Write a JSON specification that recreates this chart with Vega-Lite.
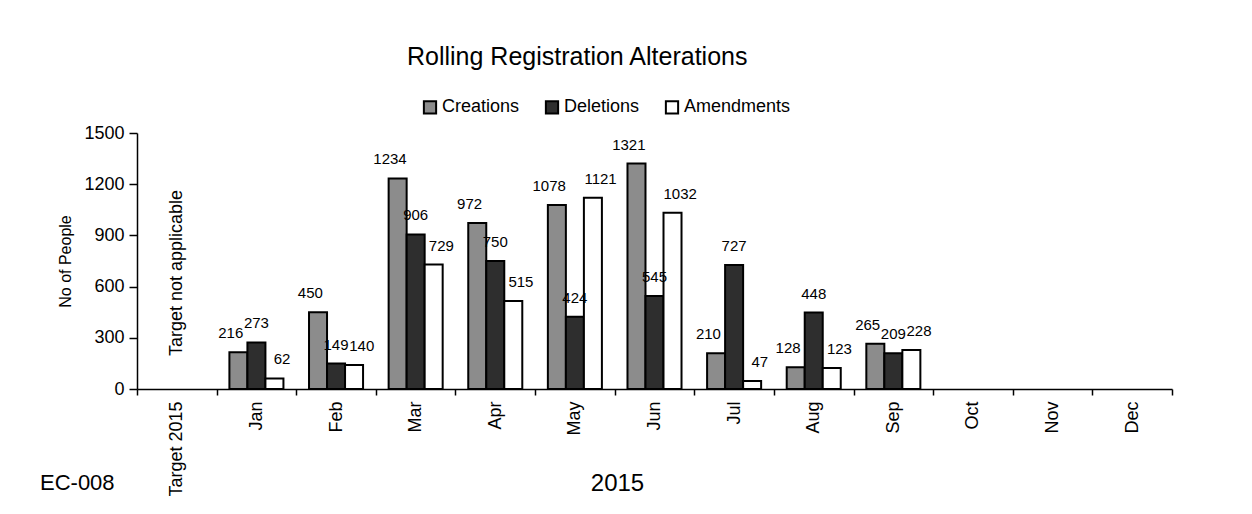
{
  "$schema": "https://vega.github.io/schema/vega-lite/v6.json",
  "width": 1035,
  "height": 256,
  "autosize": {"type": "none"},
  "padding": {"left": 137, "top": 133, "right": 80, "bottom": 125},
  "background": "white",
  "title": {
    "text": "EC-008",
    "orient": "bottom",
    "anchor": "start",
    "frame": "group",
    "dx": -97,
    "dy": -27,
    "fontSize": 22,
    "fontWeight": "normal",
    "color": "black"
  },
  "config": {
    "font": "Liberation Sans",
    "view": {"stroke": null},
    "axis": {"domainColor": "black", "tickColor": "black", "labelColor": "black", "titleColor": "black", "grid": false}
  },
  "datasets": {
    "counts": [
      {"month": "Jan", "series": "Creations", "value": 216},
      {"month": "Jan", "series": "Deletions", "value": 273},
      {"month": "Jan", "series": "Amendments", "value": 62},
      {"month": "Feb", "series": "Creations", "value": 450},
      {"month": "Feb", "series": "Deletions", "value": 149},
      {"month": "Feb", "series": "Amendments", "value": 140},
      {"month": "Mar", "series": "Creations", "value": 1234},
      {"month": "Mar", "series": "Deletions", "value": 906},
      {"month": "Mar", "series": "Amendments", "value": 729},
      {"month": "Apr", "series": "Creations", "value": 972},
      {"month": "Apr", "series": "Deletions", "value": 750},
      {"month": "Apr", "series": "Amendments", "value": 515},
      {"month": "May", "series": "Creations", "value": 1078},
      {"month": "May", "series": "Deletions", "value": 424},
      {"month": "May", "series": "Amendments", "value": 1121},
      {"month": "Jun", "series": "Creations", "value": 1321},
      {"month": "Jun", "series": "Deletions", "value": 545},
      {"month": "Jun", "series": "Amendments", "value": 1032},
      {"month": "Jul", "series": "Creations", "value": 210},
      {"month": "Jul", "series": "Deletions", "value": 727},
      {"month": "Jul", "series": "Amendments", "value": 47},
      {"month": "Aug", "series": "Creations", "value": 128},
      {"month": "Aug", "series": "Deletions", "value": 448},
      {"month": "Aug", "series": "Amendments", "value": 123},
      {"month": "Sep", "series": "Creations", "value": 265},
      {"month": "Sep", "series": "Deletions", "value": 209},
      {"month": "Sep", "series": "Amendments", "value": 228}
    ],
    "notes": [
      {"month": "Target 2015", "note": "Target not applicable"}
    ]
  },
  "resolve": {"scale": {"xOffset": "independent"}},
  "layer": [
    {
      "data": {"name": "counts"},
      "mark": {"type": "bar", "stroke": "black", "strokeWidth": 2},
      "encoding": {
        "x": {
          "field": "month",
          "type": "nominal",
          "sort": null,
          "scale": {
            "domain": ["Target 2015", "Jan", "Feb", "Mar", "Apr", "May", "Jun", "Jul", "Aug", "Sep", "Oct", "Nov", "Dec"],
            "paddingInner": 0,
            "paddingOuter": 0
          },
          "axis": {
            "title": "2015",
            "titleFontSize": 24,
            "titleFontWeight": "normal",
            "titleX": 480,
            "titleY": 94,
            "titleAlign": "center",
            "titleBaseline": "middle",
            "labelAngle": 270,
            "labelAlign": "right",
            "labelBaseline": "middle",
            "labelFontSize": 18,
            "labelPadding": 6,
            "tickSize": 6,
            "tickBand": "extent",
            "domainWidth": 1.5,
            "tickWidth": 1.5
          }
        },
        "y": {
          "field": "value",
          "type": "quantitative",
          "scale": {"domain": [0, 1500], "nice": false},
          "axis": {
            "title": "No of People",
            "titleFontSize": 16,
            "titleFontWeight": "normal",
            "titlePadding": 10,
            "values": [0, 300, 600, 900, 1200, 1500],
            "format": "d",
            "labelFontSize": 18,
            "labelPadding": 5,
            "tickSize": 8,
            "domainWidth": 1.5,
            "tickWidth": 1.5
          }
        },
        "xOffset": {
          "field": "series",
          "type": "nominal",
          "sort": ["Creations", "Deletions", "Amendments"],
          "scale": {"paddingInner": 0, "paddingOuter": 0.71}
        },
        "fill": {
          "field": "series",
          "type": "nominal",
          "sort": ["Creations", "Deletions", "Amendments"],
          "scale": {"domain": ["Creations", "Deletions", "Amendments"], "range": ["#8c8c8c", "#2e2e2e", "#ffffff"]},
          "legend": {
            "title": "Rolling Registration Alterations",
            "orient": "none",
            "legendX": 270,
            "legendY": -88,
            "direction": "horizontal",
            "titleFontSize": 25,
            "titleFontWeight": "normal",
            "titleColor": "black",
            "titleAnchor": "start",
            "titleLimit": 1000,
            "titlePadding": 28,
            "symbolType": "square",
            "symbolSize": 150,
            "symbolStrokeColor": "black",
            "symbolStrokeWidth": 2,
            "symbolOpacity": 1,
            "symbolOffset": 14,
            "labelFontSize": 18,
            "labelColor": "black",
            "labelOffset": 3,
            "columnPadding": 9
          }
        }
      }
    },
    {
      "data": {"name": "counts"},
      "mark": {"type": "text", "fontSize": 15, "baseline": "middle", "dy": -19, "color": "black"},
      "encoding": {
        "x": {"field": "month", "type": "nominal", "sort": null},
        "y": {"field": "value", "type": "quantitative"},
        "xOffset": {
          "field": "series",
          "type": "nominal",
          "sort": ["Creations", "Deletions", "Amendments"],
          "scale": {"padding": 0.55}
        },
        "text": {"field": "value", "type": "quantitative"}
      }
    },
    {
      "data": {"name": "notes"},
      "mark": {"type": "text", "fontSize": 18, "angle": 270, "align": "left", "baseline": "middle", "color": "black", "dx": 4},
      "encoding": {
        "x": {"field": "month", "type": "nominal", "sort": null},
        "y": {"datum": 170, "type": "quantitative"},
        "text": {"field": "note", "type": "nominal"}
      }
    }
  ]
}
